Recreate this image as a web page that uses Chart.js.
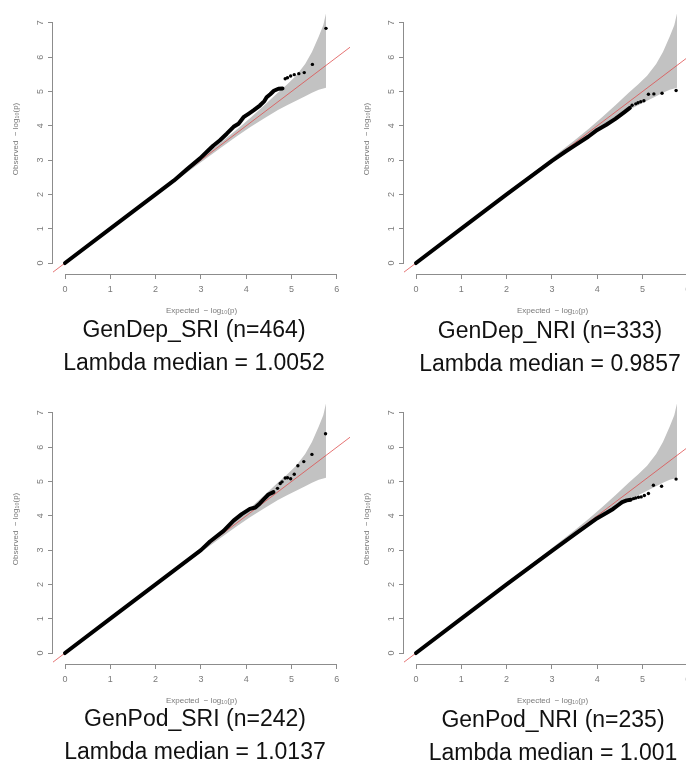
<!DOCTYPE html>
<html>
<head>
<meta charset="utf-8">
<script src="https://cdn.jsdelivr.net/npm/chart.js@4.4.1/dist/chart.umd.min.js"></script>
<style>
  html, body { margin: 0; padding: 0; background: #fff; }
  #sheet { position: relative; width: 686px; height: 763px; overflow: hidden; }
  #sheet canvas { position: absolute; }
  .caption {
    position: absolute;
    width: 360px;
    text-align: center;
    font-family: 'Liberation Sans', Arial, sans-serif;
    font-size: 23px;
    line-height: 23px;
    color: #111;
    white-space: nowrap;
  }
</style>
</head>
<body>
<div id="sheet"></div>
<script>
// Panel captions
const panelNames = ['GenDep_SRI (n=464)', 'GenDep_NRI (n=333)', 'GenPod_SRI (n=242)', 'GenPod_NRI (n=235)'];
const lambdaMedians = ['1.0052', '0.9857', '1.0137', '1.001'];

// Axis ticks
const xTickValues = [0, 1, 2, 3, 4, 5, 6];
const yTickValues = [0, 1, 2, 3, 4, 5, 6, 7];

// 95% band around the null line (same SNP count in every panel)
const bandExpected = [0, 1, 2, 3, 3.5, 3.8, 4.1, 4.4, 4.7, 4.9, 5.1, 5.3, 5.45, 5.6, 5.7, 5.76];
const bandUpper = [0, 1.02, 2.03, 3.06, 3.58, 3.9, 4.24, 4.6, 4.97, 5.2, 5.46, 5.8, 6.15, 6.6, 6.93, 7.27];
const bandLower = [0, 0.98, 1.97, 2.94, 3.42, 3.7, 3.97, 4.22, 4.46, 4.6, 4.73, 4.86, 4.96, 5.05, 5.09, 5.11];

// GenDep_SRI: dense body of the QQ curve, then the separate top hits
const depSriBodyX = [0, 1, 2, 2.4, 2.69, 2.98, 3.16, 3.27, 3.42, 3.57, 3.72, 3.83, 3.94, 4.05, 4.16, 4.3, 4.4, 4.45, 4.53, 4.61, 4.71, 4.8];
const depSriBodyY = [0, 1, 2, 2.4, 2.73, 3.05, 3.28, 3.42, 3.58, 3.77, 3.97, 4.06, 4.25, 4.35, 4.45, 4.59, 4.72, 4.83, 4.92, 5.02, 5.08, 5.09];
const depSriTopX = [4.86, 4.91, 4.98, 5.06, 5.16, 5.28, 5.46, 5.76];
const depSriTopY = [5.37, 5.4, 5.45, 5.49, 5.52, 5.55, 5.79, 6.84];

// GenDep_NRI
const depNriBodyX = [0, 1, 2, 3, 3.3, 3.5, 3.8, 4, 4.2, 4.4, 4.6, 4.72];
const depNriBodyY = [0, 1, 2, 2.98, 3.25, 3.42, 3.68, 3.88, 4.03, 4.2, 4.4, 4.52];
const depNriTopX = [4.77, 4.85, 4.9, 4.96, 5.03, 5.13, 5.25, 5.43, 5.74];
const depNriTopY = [4.6, 4.64, 4.67, 4.7, 4.73, 4.92, 4.93, 4.95, 5.03];

// GenPod_SRI
const podSriBodyX = [0, 1, 2, 3, 3.2, 3.5, 3.72, 3.9, 4.08, 4.2, 4.3, 4.4, 4.49, 4.6];
const podSriBodyY = [0, 1, 2, 3, 3.25, 3.56, 3.86, 4.05, 4.2, 4.24, 4.36, 4.5, 4.62, 4.69];
const podSriTopX = [4.69, 4.75, 4.79, 4.86, 4.91, 4.98, 5.06, 5.14, 5.27, 5.45, 5.75];
const podSriTopY = [4.8, 4.94, 4.99, 5.1, 5.11, 5.08, 5.21, 5.46, 5.58, 5.79, 6.39];

// GenPod_NRI
const podNriBodyX = [0, 1, 2, 3, 3.5, 3.8, 4, 4.2, 4.35, 4.45, 4.55, 4.65, 4.74];
const podNriBodyY = [0, 1, 2, 2.98, 3.46, 3.74, 3.93, 4.08, 4.2, 4.3, 4.4, 4.45, 4.47];
const podNriTopX = [4.8, 4.85, 4.91, 4.97, 5.04, 5.13, 5.24, 5.42, 5.74];
const podNriTopY = [4.5, 4.52, 4.54, 4.55, 4.59, 4.65, 4.89, 4.86, 5.07];

const panels = [
  { bodyX: depSriBodyX, bodyY: depSriBodyY, topX: depSriTopX, topY: depSriTopY },
  { bodyX: depNriBodyX, bodyY: depNriBodyY, topX: depNriTopX, topY: depNriTopY },
  { bodyX: podSriBodyX, bodyY: podSriBodyY, topX: podSriTopX, topY: podSriTopY },
  { bodyX: podNriBodyX, bodyY: podNriBodyY, topX: podNriTopX, topY: podNriTopY }
];

// Where each panel sits on the sheet
const layout = [
  { left: 0,   top: 0,   capX: 194, capY: 318 },
  { left: 351, top: 0,   capX: 550, capY: 319 },
  { left: 0,   top: 390, capX: 195, capY: 707 },
  { left: 351, top: 390, capX: 553, capY: 708 }
];

const axisGrey = '#8c8c8c';
const labelGrey = '#7a7a7a';
const fontFamily = "'Liberation Sans', Arial, sans-serif";

const toPoints = (xs, ys) => xs.map((x, i) => ({ x: x, y: ys[i] }));

// R-style axes: the axis line only runs from the first to the last tick
const rAxes = {
  id: 'rAxes',
  afterDraw(chart) {
    const { ctx, chartArea, scales: { x, y } } = chart;
    const xb = Math.round(chartArea.bottom) + 0.5;
    const yl = Math.round(chartArea.left) - 0.5;
    ctx.save();
    ctx.strokeStyle = axisGrey;
    ctx.lineWidth = 1;
    ctx.beginPath();
    ctx.moveTo(x.getPixelForValue(x.ticks[0].value), xb);
    ctx.lineTo(x.getPixelForValue(x.ticks[x.ticks.length - 1].value), xb);
    ctx.moveTo(yl, y.getPixelForValue(y.ticks[0].value));
    ctx.lineTo(yl, y.getPixelForValue(y.ticks[y.ticks.length - 1].value));
    ctx.stroke();
    ctx.restore();
  }
};

function buildPanel(panel, box, index) {
  const sheet = document.getElementById('sheet');
  const canvas = document.createElement('canvas');
  canvas.width = 360;
  canvas.height = 320;
  canvas.style.left = box.left + 'px';
  canvas.style.top = box.top + 'px';
  sheet.appendChild(canvas);

  new Chart(canvas.getContext('2d'), {
    type: 'scatter',
    data: {
      datasets: [{
        // separate top hits
        data: toPoints(panel.topX, panel.topY),
        backgroundColor: '#000',
        borderWidth: 0,
        pointRadius: 1.7
      }, {
        // overlapping points of the main body
        data: toPoints(panel.bodyX, panel.bodyY),
        showLine: true,
        borderColor: '#000',
        borderWidth: 4,
        borderCapStyle: 'round',
        borderJoinStyle: 'round',
        pointRadius: 0
      }, {
        // null line y = x
        data: [{ x: -0.4, y: -0.4 }, { x: 6.5, y: 6.5 }],
        showLine: true,
        borderColor: 'rgba(222, 80, 80, 0.8)',
        borderWidth: 1,
        pointRadius: 0
      }, {
        data: toPoints(bandExpected, bandUpper),
        showLine: true,
        borderWidth: 0,
        pointRadius: 0,
        fill: '+1',
        backgroundColor: '#c2c2c2'
      }, {
        data: toPoints(bandExpected, bandLower),
        showLine: true,
        borderWidth: 0,
        pointRadius: 0
      }]
    },
    options: {
      responsive: false,
      animation: false,
      devicePixelRatio: 1,
      layout: { padding: { left: 0, right: 10, top: 0, bottom: 0 } },
      plugins: {
        legend: { display: false },
        tooltip: { enabled: false }
      },
      scales: {
        x: {
          type: 'linear',
          min: -0.265,
          max: 6.29,
          border: { display: false },
          grid: { drawOnChartArea: false, drawTicks: true, tickLength: 5, color: axisGrey },
          ticks: { color: labelGrey, padding: 5, font: { size: 9, family: fontFamily } },
          title: {
            display: true,
            text: 'Expected  \u2212 log\u2081\u2080(p)',
            color: labelGrey,
            font: { size: 8, family: fontFamily },
            padding: { top: 0, bottom: 4 }
          },
          afterBuildTicks: s => { s.ticks = xTickValues.map(v => ({ value: v })); },
          afterFit: s => { s.height = 46; s.paddingLeft = 0; s.paddingRight = 0; }
        },
        y: {
          type: 'linear',
          min: -0.32,
          max: 7.55,
          border: { display: false },
          grid: { drawOnChartArea: false, drawTicks: true, tickLength: 5, color: axisGrey },
          ticks: {
            color: labelGrey,
            padding: 5,
            minRotation: 90,
            maxRotation: 90,
            crossAlign: 'center',
            font: { size: 9, family: fontFamily }
          },
          title: {
            display: true,
            text: 'Observed  \u2212 log\u2081\u2080(p)',
            color: labelGrey,
            font: { size: 8, family: fontFamily },
            padding: { top: 11, bottom: 0 }
          },
          afterBuildTicks: s => { s.ticks = yTickValues.map(v => ({ value: v })); },
          afterFit: s => { s.width = 53; s.paddingTop = 0; s.paddingBottom = 0; }
        }
      }
    },
    plugins: [rAxes]
  });

  // Caption under the panel
  const lines = [panelNames[index], 'Lambda median = ' + lambdaMedians[index]];
  lines.forEach((text, i) => {
    const cap = document.createElement('div');
    cap.className = 'caption';
    cap.textContent = text;
    cap.style.left = (box.capX - 180) + 'px';
    cap.style.top = (box.capY + i * 33) + 'px';
    sheet.appendChild(cap);
  });
}

panels.forEach((panel, i) => buildPanel(panel, layout[i], i));
</script>
</body>
</html>
